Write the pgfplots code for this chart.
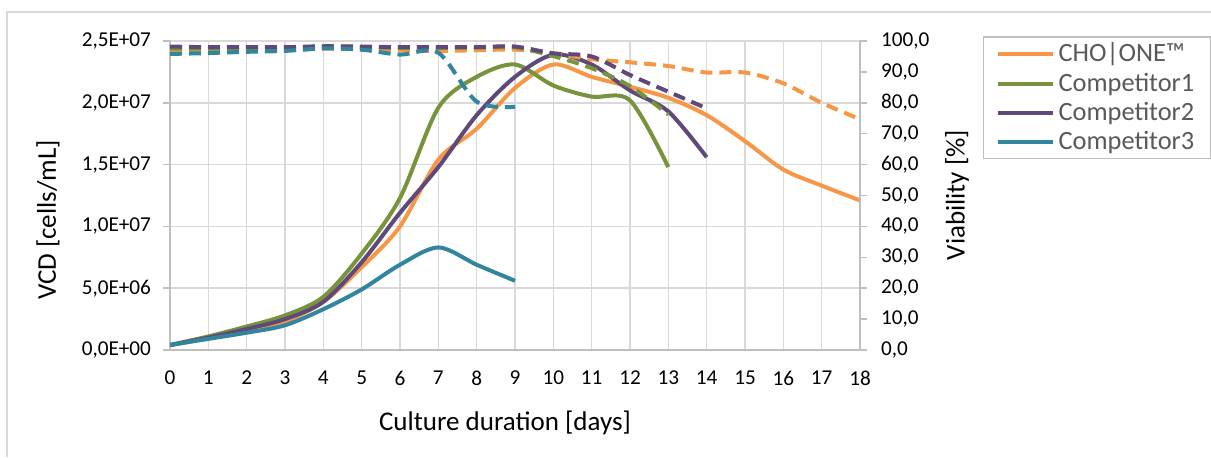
\documentclass[border=0pt]{standalone}
\usepackage{pgfplots}
\pgfplotsset{compat=1.18}
\usepackage{fontspec}
\setmainfont{Carlito}

\definecolor{cOne}{HTML}{F79646}
\definecolor{cCompA}{HTML}{77933C}
\definecolor{cCompB}{HTML}{5F497A}
\definecolor{cCompC}{HTML}{31859C}
\definecolor{gridc}{HTML}{D9D9D9}
\definecolor{axc}{HTML}{BFBFBF}
\definecolor{legtxt}{HTML}{595959}

\pgfplotsset{
  base/.style={
    scale only axis, width=345pt, height=154.5pt,
    xmin=0, xmax=18,
    /pgf/number format/assume math mode=true,
    tick label style={font=\fontsize{10.6}{12}\selectfont},
    axis line style={axc, line width=0.75pt},
    tick style={axc, line width=0.75pt},
    tick align=outside, major tick length=3.5pt,
  },
  vcd/.style={line width=2pt, smooth},
  via/.style={line width=2pt, smooth, dash pattern=on 6pt off 3.5pt},
}

\begin{document}
\begin{tikzpicture}
\useasboundingbox (0,0) rectangle (605.5pt,228.5pt);
% chart frame
\draw[gridc, line width=0.75pt] (3.5pt,0pt) -- (3.5pt,222.5pt) -- (605.5pt,222.5pt);

\begin{axis}[base, at={(85pt,53.5pt)}, anchor=south west,
  axis x line*=bottom, axis y line*=left,
  ymin=0, ymax=25,
  xtick={0,1,...,18}, xtick style={draw=none},
  xticklabel shift=3.5pt, yticklabel shift=2.5pt,
  ytick={0,5,10,15,20,25},
  yticklabels={{0,0E+00},{5,0E+06},{1,0E+07},{1,5E+07},{2,0E+07},{2,5E+07}},
  xmajorgrids, ymajorgrids,
  grid style={gridc, line width=0.75pt},
  legend style={at={(1.178,1.016)}, anchor=north west,
    draw=axc, line width=0.75pt, fill=white,
    font=\fontsize{13.2}{15}\selectfont\color{legtxt},
    row sep=0pt, inner xsep=6pt, inner ysep=1pt},
  legend cell align=left,
  legend image code/.code={\draw[#1, line width=2pt] (0pt,0pt) -- (27.5pt,0pt);},
]
% VCD in 1E6 cells/mL
\addplot[vcd, cOne] coordinates {(0,0.4)(1,1.0)(2,1.6)(3,2.3)(4,3.9)(5,6.7)(6,10.0)(7,15.4)(8,17.9)(9,21.2)(10,23.1)(11,22.1)(12,21.3)(13,20.4)(14,19.0)(15,16.9)(16,14.6)(17,13.3)(18,12.1)};
\addlegendentry{CHO|ONE™}
\addplot[vcd, cCompA] coordinates {(0,0.4)(1,1.1)(2,1.9)(3,2.8)(4,4.3)(5,7.8)(6,12.3)(7,19.6)(8,22.1)(9,23.1)(10,21.4)(11,20.5)(12,20.2)(13,14.8)};
\addlegendentry{Competitor1}
\addplot[vcd, cCompB] coordinates {(0,0.4)(1,1.0)(2,1.7)(3,2.5)(4,3.9)(5,7.1)(6,11.1)(7,14.8)(8,19.0)(9,22.1)(10,23.9)(11,23.1)(12,21.0)(13,19.3)(14,15.6)};
\addlegendentry{Competitor2}
\addplot[vcd, cCompC] coordinates {(0,0.4)(1,0.9)(2,1.4)(3,2.0)(4,3.3)(5,4.9)(6,6.9)(7,8.3)(8,6.9)(9,5.6)};
\addlegendentry{Competitor3}
\end{axis}

\begin{axis}[base, at={(85pt,53.5pt)}, anchor=south west,
  axis x line=none, axis y line*=right,
  ymin=0, ymax=100, ytick={0,10,...,100}, yticklabel shift=3.5pt,
  yticklabel style={/pgf/number format/.cd, fixed, fixed zerofill, precision=1, use comma},
]
% viability [%]
\addplot[via, cOne] coordinates {(0,97)(1,97)(2,97)(3,97)(4,97.5)(5,97.3)(6,97)(7,96.8)(8,97)(9,97.2)(10,96)(11,94.1)(12,93.1)(13,91.9)(14,89.8)(15,89.8)(16,86.3)(17,80)(18,74.7)};
\addplot[via, cCompA] coordinates {(0,97.5)(1,97.5)(2,97.5)(3,97.6)(4,98.3)(5,98)(6,97.8)(7,97.8)(8,97.9)(9,98)(10,95.1)(11,91.2)(12,85.4)(13,76.2)};
\addplot[via, cCompB] coordinates {(0,98.2)(1,98)(2,98)(3,98)(4,98.3)(5,98.2)(6,98)(7,98)(8,98)(9,98.2)(10,96)(11,95)(12,89)(13,83.6)(14,78.2)};
\addplot[via, cCompC] coordinates {(0,95.8)(1,96.1)(2,96.5)(3,96.8)(4,97.6)(5,97.2)(6,95.6)(7,96.2)(8,80.4)(9,78.7)};
\end{axis}

\node[rotate=90, font=\fontsize{13.5}{16}\selectfont] at (24pt,118.5pt) {VCD [cells/mL]};
\node[rotate=90, font=\fontsize{13.5}{16}\selectfont] at (478.5pt,131pt) {Viability [\%]};
\node[font=\fontsize{13.5}{16}\selectfont] at (252.5pt,17pt) {Culture duration [days]};
\end{tikzpicture}
\end{document}
